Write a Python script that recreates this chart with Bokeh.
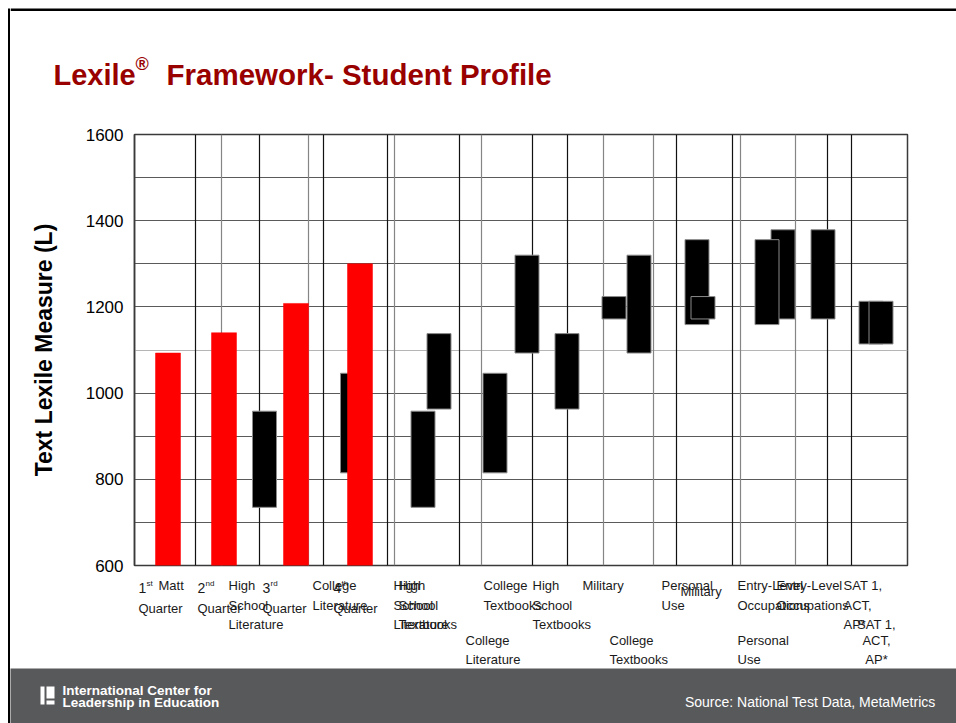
from bokeh.plotting import figure
from bokeh.models import FixedTicker, Range1d
from bokeh.layouts import row, column
from bokeh.core.properties import value
from bokeh.embed import file_html
from bokeh.resources import INLINE

# ---------------- data ----------------
quarters = ["1st Quarter", "2nd Quarter", "3rd Quarter", "4th Quarter"]
quarter_lexile = [1093, 1140, 1208, 1300]

text_types = ["High School Literature", "College Literature", "High School Textbooks",
              "College Textbooks", "Military", "Personal Use",
              "Entry-Level Occupations", "SAT 1, ACT, AP*"]
text_low = [735, 815, 963, 1093, 1172, 1159, 1172, 1114]
text_high = [958, 1046, 1138, 1320, 1224, 1356, 1379, 1213]

y_ticks = [600, 800, 1000, 1200, 1400, 1600]
grid_values = [700, 800, 900, 1000, 1100, 1200, 1300, 1400, 1500]

# ---------------- layout (positions on the x axis) ----------------
quarter_x = [33.5, 89.5, 161.5, 225.5]
set_a_x = [130, 218, 304.5, 392.5, 479.5, 562.5, 648.5, 736.5]
set_b_x = [288.5, 360.5, 432.5, 504.5, 568.5, 632.5, 688.5, 746.5]
divider_x = [61, 125, 189, 253, 325, 398, 433, 542, 598, 693, 717,
             87, 174, 260, 347, 469, 519, 606, 661]
divider_c = ["#111111"] * 11 + ["#858585"] * 8

FONT = "Liberation Sans"
LBL_FONT = "Liberation Sans"
TITLE_C = "#990000"
FOOT_C = "#58595b"

W_ALL, H_ALL = 956, 723
STRIP = 10
W = W_ALL - STRIP          # width of the column
TOP_H = 110
MAIN_H = 465
FOOT_TOP = 668
LBL_H = FOOT_TOP - TOP_H - MAIN_H
FOOT_H = H_ALL - FOOT_TOP


def blank(width, height, xr, yr, bg="white"):
    f = figure(width=width, height=height, x_range=xr, y_range=yr,
               output_backend="svg", toolbar_location=None,
               x_axis_location=None, y_axis_location=None, min_border=0,
               background_fill_color=bg, border_fill_color=bg)
    f.min_border_left = f.min_border_right = 0
    f.min_border_top = f.min_border_bottom = 0
    f.outline_line_color = None
    f.grid.visible = False
    f.frame_align = False
    return f


def txt(f, x, y, t, size="13px", font=LBL_FONT, color="#1a1a1a", style="normal",
        align="left", baseline="middle"):
    f.text(x=[x], y=[y], text=[t], text_font=value(font), text_font_size=size,
           text_color=color, text_font_style=style, text_align=align,
           text_baseline=baseline)


# ---------------- left border strip ----------------
strip = blank(STRIP, H_ALL, Range1d(0, STRIP), Range1d(H_ALL, 0))
strip.quad(left=[7.5], right=[10], top=[8], bottom=[H_ALL], fill_color="black",
           line_color=None)

# ---------------- title band ----------------
top = blank(W, TOP_H, Range1d(STRIP, W_ALL), Range1d(TOP_H, 0))
top.quad(left=[STRIP], right=[W_ALL], top=[8], bottom=[10.5], fill_color="black",
         line_color=None)
txt(top, 53, 74, "Lexile", size="29px", font=FONT, color=TITLE_C, style="bold",
    baseline="alphabetic")
txt(top, 135, 63, "\u00ae", size="18px", font=FONT, color=TITLE_C, style="bold",
    baseline="alphabetic")
txt(top, 166, 74, "Framework- Student Profile", size="29.5px", font=FONT,
    color=TITLE_C, style="bold", baseline="alphabetic")

# ---------------- main chart ----------------
p = figure(width=W, height=MAIN_H, x_range=Range1d(0, 773), y_range=Range1d(600, 1600),
           output_backend="svg", toolbar_location=None, x_axis_location=None,
           min_border_left=124, min_border_right=49, min_border_top=24,
           min_border_bottom=10, background_fill_color="white",
           border_fill_color="white")
p.frame_align = False
p.outline_line_color = "#3a3a3a"
p.outline_line_width = 1.5
p.xgrid.visible = False
p.ygrid.ticker = FixedTicker(ticks=grid_values)
p.ygrid.grid_line_color = "#5a5a5a"
p.ygrid.grid_line_width = 1

ax = p.yaxis[0]
ax.ticker = FixedTicker(ticks=y_ticks)
ax.axis_line_color = "#3a3a3a"
ax.axis_line_width = 1.5
ax.major_tick_line_color = None
ax.major_tick_out = 0
ax.major_tick_in = 0
ax.minor_tick_line_color = None
ax.major_label_text_font = FONT
ax.major_label_text_font_size = "17px"
ax.major_label_text_color = "black"
ax.major_label_standoff = 11
ax.axis_label = "Text Lexile Measure (L)"
ax.axis_label_text_font = FONT
ax.axis_label_text_font_size = "23px"
ax.axis_label_text_font_style = "bold"
ax.axis_label_text_color = "black"
ax.axis_label_standoff = 26

p.hspan(y=[1100], line_color="#b5b5b5", line_width=1)
p.vspan(x=divider_x, line_color=divider_c, line_width=1.2)

p.vbar(x=set_a_x, width=24, bottom=text_low, top=text_high,
       fill_color="black", line_color="#8a8a8a", line_width=1)
p.vbar(x=set_b_x, width=24, bottom=text_low, top=text_high,
       fill_color="black", line_color="#8a8a8a", line_width=1)
p.vbar(x=quarter_x, width=25, bottom=600, top=quarter_lexile,
       fill_color="#ff0000", line_color="#ff0000", line_width=0.5)

# ---------------- category labels ----------------
lbl_top = TOP_H + MAIN_H
lab = blank(W, LBL_H, Range1d(STRIP - 134, W_ALL - 134), Range1d(FOOT_TOP, lbl_top))

rows = [585, 604.5, 624, 640, 659]
quarter_lbl = [("1", "st", 4), ("2", "nd", 63), ("3", "rd", 128), ("4", "th", 199)]
for (num, sup, x) in quarter_lbl:
    txt(lab, x, 587, num, size="14px")
    txt(lab, x + 8, 583, sup, size="8px")
    txt(lab, x, 608, "Quarter")
txt(lab, 24, rows[0], "Matt")

PARTS = {"High School Literature": ["High", "School", "Literature"],
         "College Literature": ["College", "Literature"],
         "High School Textbooks": ["High", "School", "Textbooks"],
         "College Textbooks": ["College", "Textbooks"],
         "Military": ["Military"],
         "Personal Use": ["Personal", "Use"],
         "Entry-Level Occupations": ["Entry-Level", "Occupations"],
         "SAT 1, ACT, AP*": ["SAT 1,", "ACT,", "AP*"]}


def multi(x, row0, name, align="left"):
    for i, s in enumerate(PARTS[name]):
        txt(lab, x, rows[row0 + i], s, align=align)


set_a_lbl_x = [94, 178, 264, 349, 448, 527, 603, 709]
set_b_lbl_x = [259, 331, 398, 475, 546, 603, 642, 742]
set_b_row = [0, 3, 0, 3, 0, 3, 0, 2]
for i, name in enumerate(text_types):
    multi(set_a_lbl_x[i], 0, name)
for i, name in enumerate(text_types):
    if name == "Military":
        txt(lab, set_b_lbl_x[i], 591, "Military")
    elif name == "SAT 1, ACT, AP*":
        multi(set_b_lbl_x[i], set_b_row[i], name, align="center")
    else:
        multi(set_b_lbl_x[i], set_b_row[i], name)

# ---------------- footer ----------------
foot = blank(W, FOOT_H, Range1d(STRIP, W_ALL), Range1d(H_ALL, FOOT_TOP), bg=FOOT_C)
foot.quad(left=[40, 46, 46], right=[44, 54, 54], top=[686, 686, 700],
          bottom=[704, 698, 704], fill_color="white", line_color=None)
txt(foot, 62, 690, "International Center for", size="13.5px", font=FONT,
    color="white", style="bold")
txt(foot, 62, 702, "Leadership in Education", size="13.5px", font=FONT,
    color="white", style="bold")
txt(foot, 935, 701, "Source: National Test Data, MetaMetrics", size="14px",
    font=FONT, color="white", align="right")

layout = row(strip, column(top, p, lab, foot, spacing=0), spacing=0)
open("out.html", "w").write(file_html(layout, INLINE))
